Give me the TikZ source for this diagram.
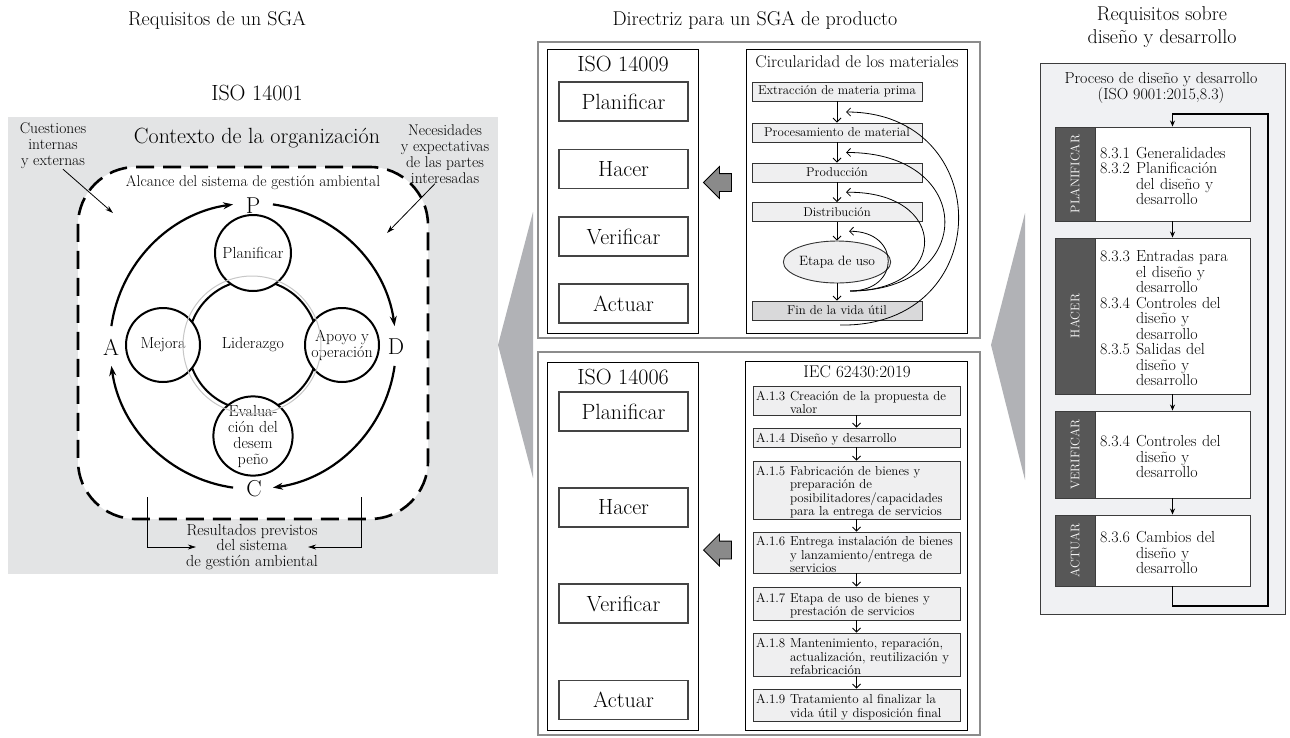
\documentclass[tikz,border=0pt]{standalone}
\usepackage{graphicx}
\usetikzlibrary{arrows.meta,shapes.geometric,shapes.arrows,calc}
\definecolor{ctxgray}{HTML}{E3E4E5}
\definecolor{wedgegray}{HTML}{B1B2B6}
\definecolor{outline}{HTML}{8C8C8C}
\definecolor{boxline}{HTML}{444444}
\definecolor{itemline}{HTML}{333333}
\definecolor{itemfill}{HTML}{EFEFF0}
\definecolor{finfill}{HTML}{D9D9DA}
\definecolor{arrowgray}{HTML}{8A8A8A}
\definecolor{labelgray}{HTML}{575757}
\definecolor{darkline}{HTML}{3C3C3C}
\definecolor{panelfill}{HTML}{F0F1F3}
\newcommand{\hitem}[3]{\par\begingroup\let\\\newline\hangindent=#1\hangafter=1\noindent\makebox[#1][l]{#2}#3\par\endgroup}
\begin{document}
\begin{tikzpicture}[x=1pt,y=-1pt]
		\tikzstyle{every node}=[inner sep=0pt]
		\tikzstyle{ttl}=[font=\fontsize{20}{23}\selectfont,align=center]
		\tikzstyle{big}=[font=\fontsize{22}{25}\selectfont]
		\tikzstyle{txt}=[font=\fontsize{15.5}{16}\selectfont,align=center]
		\tikzstyle{pdcacirc}=[circle,draw,line width=2pt,fill=white,font=\fontsize{16}{16}\selectfont,align=center]
		\tikzstyle{pdcaletter}=[font=\fontsize{23}{26}\selectfont]
		\tikzstyle{pdca}=[line width=2.2pt,-{Stealth[length=10pt,width=7pt]}]
		\tikzstyle{thinarrow}=[line width=0.8pt,-{Stealth[length=8pt,width=5pt]}]
		\tikzstyle{pvbox}=[draw=boxline,line width=1.1pt,minimum width=129pt,minimum height=39pt,font=\fontsize{22}{25}\selectfont]
		\tikzstyle{frame}=[draw=black,line width=0.8pt]
		\tikzstyle{outer}=[draw=outline,line width=1.6pt]
		\tikzstyle{circitem}=[draw=itemline,fill=itemfill,line width=0.9pt,minimum width=170pt,minimum height=19pt,font=\fontsize{12.8}{14}\selectfont]
		\tikzstyle{iecitem}=[draw=itemline,fill=itemfill,line width=0.9pt,text width=201pt,inner xsep=3pt,align=left,font=\fontsize{13}{13.4}\selectfont]
		\tikzstyle{flow}=[line width=0.8pt,-{Straight Barb[length=4pt,width=8pt]}]
		\tikzstyle{bigarrow}=[single arrow,draw,fill=arrowgray,line width=0.8pt,shape border rotate=180,minimum height=28pt,inner xsep=0pt,inner ysep=8.5pt,single arrow head extend=7pt]
		\tikzstyle{labelcol}=[draw=darkline,fill=labelgray,minimum width=40pt,text=white,font=\fontsize{12.5}{14}\selectfont,line width=0.9pt]
		\tikzstyle{contentbox}=[draw=darkline,fill=white,text width=145pt,inner xsep=5pt,align=left,font=\fontsize{16}{15.5}\selectfont,line width=0.9pt]
		\tikzstyle{loop}=[line width=1.4pt,-{Stealth[length=6pt,width=5pt]}]
		
		\useasboundingbox (0,0) rectangle (1290,737);
		
		\node[ttl] (t1) at (217,20) {Requisitos de un SGA};
		\node[big] (iso1) at (257,93) {ISO 14001};
		\node[fill=ctxgray,minimum width=490pt,minimum height=457pt] (ctx) at (253,345.5) {};
		\node[draw,dash pattern=on 18pt off 9pt,line width=2.6pt,rounded corners=58pt,fill=white,minimum width=350pt,minimum height=352pt] (alc) at (253,343) {};
		\node[big] (ctxt) at (257,138) {Contexto de la organización};
		\node[txt] (cuest) at (53,146) {Cuestiones\\internas\\y externas};
		\node[txt] (nec) at (445,154) {Necesidades\\y expectativas\\de las partes\\interesadas};
		\node[txt] (alct) at (253,183) {Alcance del sistema de gestión ambiental};
		\coordinate (cin) at (113,213);
		\coordinate (nin) at (387,233);
		\draw[thinarrow] ([xshift=10pt]cuest.south) -- (cin);
		\draw[thinarrow] ([xshift=-10pt]nec.south) -- (nin);
		
		\coordinate (cyc) at (253,346);
		\draw[pdca] ($(cyc)+(-172:143)$) arc[start angle=-172,end angle=-98,radius=143];
		\draw[pdca] ($(cyc)+(-82:143)$) arc[start angle=-82,end angle=-8,radius=143];
		\draw[pdca] ($(cyc)+(8:143)$) arc[start angle=8,end angle=82,radius=143];
		\draw[pdca] ($(cyc)+(98:143)$) arc[start angle=98,end angle=172,radius=143];
		\node[pdcaletter] (lp) at (253,206) {P};
		\node[pdcaletter] (ld) at (396,347) {D};
		\node[pdcaletter] (lc) at (254,489) {C};
		\node[pdcaletter] (la) at (111,347) {A};
		
		\node[pdcacirc,minimum size=130pt] (lid) at (253,345) {Liderazgo};
		\node[pdcacirc,minimum size=76pt] (plan) at (253,253) {Planificar};
		\node[pdcacirc,minimum size=74pt] (mej) at (163,345) {Mejora};
		\node[pdcacirc,minimum size=74pt] (apo) at (342,345) {Apoyo y\\operación};
		\node[pdcacirc,minimum size=76pt] (eva) at (253,436) {Evalua-\\ción del\\desem\\peño};
		\draw[black!22,line width=1pt] (252,345) circle[radius=69];
		
		\node[txt,font=\fontsize{16}{15.5}\selectfont] (res) at (252,547) {Resultados previstos\\del sistema\\de gestión ambiental};
		\coordinate (resl) at (147,497);
		\coordinate (resr) at (361,497);
		\draw[thinarrow] (resl) |- ([xshift=10pt]res.west);
		\draw[thinarrow] (resr) |- ([xshift=-10pt]res.east);
		
		\fill[wedgegray] (498,345) -- (533,212) -- (533,478) -- cycle;
		\fill[wedgegray] (991,345) -- (1025,213) -- (1025,480) -- cycle;
		
		\node[ttl] (t2) at (755,20) {Directriz para un SGA de producto};
		\node[outer,minimum width=442pt,minimum height=296pt] (topbox) at (759,190) {};
		\node[outer,minimum width=442pt,minimum height=383pt] (botbox) at (759,543.5) {};
		
		\node[frame,minimum width=151pt,minimum height=284pt] (iso9) at (622.5,191) {};
		\node[big] (iso9t) at (623,64) {ISO 14009};
		\node[pvbox] (p1) at (623.5,101.5) {Planificar};
		\node[pvbox] (h1) at (623.5,169) {Hacer};
		\node[pvbox] (v1) at (623.5,236.5) {Verificar};
		\node[pvbox] (a1) at (623.5,303.5) {Actuar};
		\node[bigarrow] (arr1) at (722,182.5) {};
		
		\node[frame,minimum width=221pt,minimum height=284pt] (circ) at (856.5,191) {};
		\node[font=\fontsize{17}{20}\selectfont] (circt) at (857,62) {Circularidad de los materiales};
		\node[circitem] (ext) at (837,91.5) {Extracción de materia prima};
		\node[circitem] (proc) at (837,132.5) {Procesamiento de material};
		\node[circitem] (prod) at (837,172.5) {Producción};
		\node[circitem] (dist) at (837,212) {Distribución};
		\node[ellipse,draw=itemline,fill=itemfill,line width=0.9pt,minimum width=96pt,minimum height=42pt,font=\fontsize{13.5}{14}\selectfont] (uso) at (837,262) {Etapa de uso};
		\node[circitem,fill=finfill] (fin) at (837,310.5) {Fin de la vida útil};
		\draw[flow] (ext) -- (proc);
		\draw[flow] (proc) -- (prod);
		\draw[flow] (prod) -- (dist);
		\draw[flow] (dist) -- (uso);
		\draw[flow] (uso) -- (fin);
		\coordinate (g1) at ($(ext.south)!.5!(proc.north)+(9,0)$);
		\coordinate (g2) at ($(proc.south)!.5!(prod.north)+(9,0)$);
		\coordinate (g3) at ($(prod.south)!.5!(dist.north)+(9,0)$);
		\coordinate (g4) at ($(dist.south)!.5!(uso.north)+(12,0)$);
		\coordinate (s1) at (840,325);
		\coordinate (s2) at (850,291);
		\draw[flow] (s1) .. controls (997,328) and (997,112) .. (g1);
		\draw[flow] (s2) .. controls (977,291) and (977,152) .. (g2);
		\draw[flow] (s2) .. controls (950,291) and (950,191) .. (g3);
		\draw[flow] (s2) .. controls (901,291) and (901,231) .. (g4);
		
		\node[frame,minimum width=151pt,minimum height=368pt] (iso6) at (622.5,546) {};
		\node[big] (iso6t) at (623,377) {ISO 14006};
		\node[pvbox] (p2) at (623.5,411.5) {Planificar};
		\node[pvbox] (h2) at (623.5,507.5) {Hacer};
		\node[pvbox] (v2) at (623.5,603.5) {Verificar};
		\node[pvbox] (a2) at (623.5,700) {Actuar};
		\node[bigarrow] (arr2) at (722,550) {};
		
		\node[frame,minimum width=222pt,minimum height=369pt] (iec) at (856.5,545.5) {};
		\node[font=\fontsize{17}{20}\selectfont] (iect) at (857,372) {IEC 62430:2019};
		\node[iecitem,minimum height=29pt] (a13) at (856.5,400.5) {\hitem{34pt}{A.1.3}{Creación de la propuesta de\\valor}};
		\node[iecitem,minimum height=19pt] (a14) at (856.5,437.5) {\hitem{34pt}{A.1.4}{Diseño y desarrollo}};
		\node[iecitem,minimum height=58pt] (a15) at (856.5,490) {\hitem{34pt}{A.1.5}{Fabricación de bienes y\\preparación de\\posibilitadores/capacidades\\para la entrega de servicios}};
		\node[iecitem,minimum height=41pt] (a16) at (856.5,552.5) {\hitem{34pt}{A.1.6}{Entrega instalación de bienes\\y lanzamiento/entrega de\\servicios}};
		\node[iecitem,minimum height=33pt] (a17) at (856.5,603.5) {\hitem{34pt}{A.1.7}{Etapa de uso de bienes y\\prestación de servicios}};
		\node[iecitem,minimum height=43pt] (a18) at (856.5,654.5) {\hitem{34pt}{A.1.8}{Mantenimiento, reparación,\\actualización, reutilización y\\refabricación}};
		\node[iecitem,minimum height=32pt] (a19) at (856.5,705) {\hitem{34pt}{A.1.9}{Tratamiento al finalizar la\\vida útil y disposición final}};
		\draw[flow] (a13) -- (a14);
		\draw[flow] (a14) -- (a15);
		\draw[flow] (a15) -- (a16);
		\draw[flow] (a16) -- (a17);
		\draw[flow] (a17) -- (a18);
		\draw[flow] (a18) -- (a19);
		
		\node[ttl] (t3) at (1162,27) {Requisitos sobre\\diseño y desarrollo};
		\node[draw=darkline,fill=panelfill,line width=1pt,minimum width=245pt,minimum height=551pt] (proceso) at (1162.5,338.5) {};
		\node[font=\fontsize{16}{16}\selectfont,align=center] (procesot) at (1161,88) {Proceso de diseño y desarrollo\\(ISO 9001:2015,8.3)};
		\node[labelcol,minimum height=94pt] (plab) at (1075,174) {\rotatebox{90}{PLANIFICAR}};
		\node[contentbox,minimum height=94pt] (pl) at (1172.5,174) {\hitem{36pt}{8.3.1}{Generalidades}\hitem{36pt}{8.3.2}{Planificación\\del diseño y\\desarrollo}};
		\node[labelcol,minimum height=156pt] (hlab) at (1075,316) {\rotatebox{90}{HACER}};
		\node[contentbox,minimum height=156pt] (ha) at (1172.5,316) {\hitem{36pt}{8.3.3}{Entradas para\\el diseño y\\desarrollo}\hitem{36pt}{8.3.4}{Controles del\\diseño y\\desarrollo}\hitem{36pt}{8.3.5}{Salidas del\\diseño y\\desarrollo}};
		\node[labelcol,minimum height=87pt] (vlab) at (1075,454.5) {\rotatebox{90}{VERIFICAR}};
		\node[contentbox,minimum height=87pt] (ve) at (1172.5,454.5) {\hitem{36pt}{8.3.4}{Controles del\\diseño y\\desarrollo}};
		\node[labelcol,minimum height=71pt] (alab) at (1075,550.5) {\rotatebox{90}{ACTUAR}};
		\node[contentbox,minimum height=71pt] (ac) at (1172.5,550.5) {\hitem{36pt}{8.3.6}{Cambios del\\diseño y\\desarrollo}};
		\draw[loop] (pl) -- (ha);
		\draw[loop] (ha) -- (ve);
		\draw[loop] (ve) -- (ac);
		\coordinate (lpb) at (1268,606);
		\coordinate (lpt) at (1268,114);
		\draw[loop] (ac.south) |- (lpb) -- (lpt) -| (pl.north);
	\end{tikzpicture}
\end{document}
